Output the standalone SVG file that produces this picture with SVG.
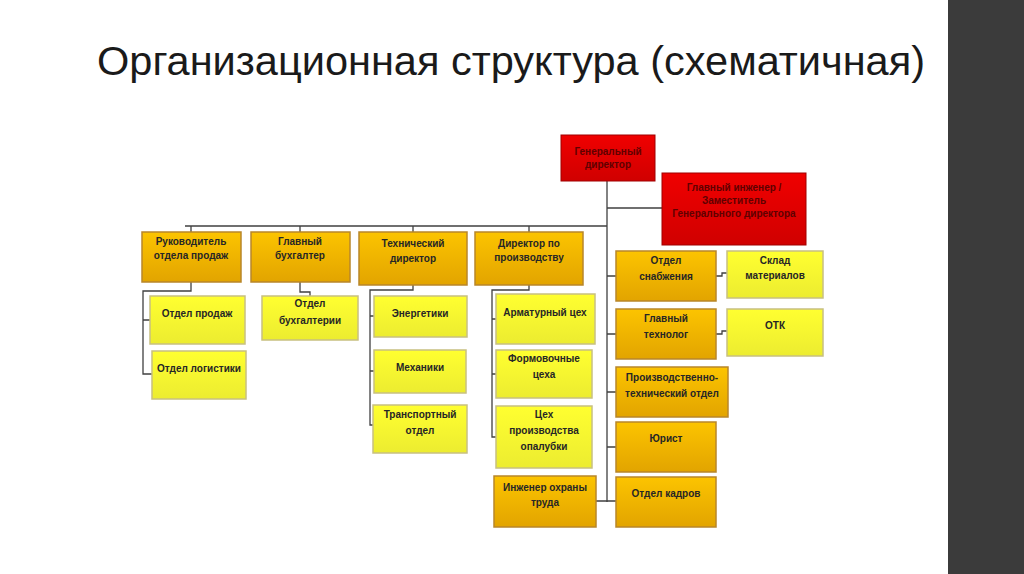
<svg xmlns="http://www.w3.org/2000/svg" width="1024" height="574" viewBox="0 0 1024 574">
<defs>
<linearGradient id="gO" x1="0" y1="0" x2="0" y2="1"><stop offset="0" stop-color="#fcc400"/><stop offset="1" stop-color="#e2a400"/></linearGradient>
<linearGradient id="gY" x1="0" y1="0" x2="0" y2="1"><stop offset="0" stop-color="#ffff30"/><stop offset="1" stop-color="#ecec30"/></linearGradient>
<linearGradient id="gR" x1="0" y1="0" x2="0" y2="1"><stop offset="0" stop-color="#f00000"/><stop offset="1" stop-color="#d00000"/></linearGradient>
<style>
.o{fill:url(#gO);stroke:#b8862a;stroke-width:1.5}
.y{fill:url(#gY);stroke:#c8c080;stroke-width:1.5}
.r{fill:url(#gR);stroke:#a00000;stroke-width:1}
text{font-family:"Liberation Sans",Arial,sans-serif;font-size:10px;font-weight:bold;text-anchor:middle;fill:#262626}
.rt{fill:#600000}
.c{fill:none;stroke:#404040;stroke-width:1.3}
</style>
</defs>
<rect width="1024" height="574" fill="#fff"/>
<rect x="948" y="0" width="76" height="574" fill="#3b3b3b"/>
<text x="97" y="75" style="font-family:'Liberation Sans',sans-serif;font-size:40px;font-weight:normal;text-anchor:start;fill:#1a1a1a" textLength="828" lengthAdjust="spacingAndGlyphs">Организационная структура (схематичная)</text>
<g id="connectors" class="c">
<path d="M607 181V502M185 226H607M607 208H662M191 226V232M300 226V232M413 226V232M529 226V232"/>
<path d="M191 282V291H143V374H152M143 320H150"/>
<path d="M300 282V292H310V296"/>
<path d="M413 285V290H370V425H373M370 316H374M370 371H374"/>
<path d="M529 285V290H492V437H496M492 319H496M492 374H496"/>
<path d="M596 501H616M607 276H616M607 334H616M607 392H616M607 447H616"/>
<path d="M716 276H722V273H727M716 334H722V331H727"/>
</g>
<g id="gd"><rect class="r" x="561" y="135" width="94" height="46"/><text class="rt" x="608" y="155">Генеральный</text><text class="rt" x="608" y="168">директор</text></g>
<g id="gi"><rect class="r" x="662" y="173" width="144" height="72"/><text class="rt" x="734" y="191">Главный инженер /</text><text class="rt" x="734" y="204">Заместитель</text><text class="rt" x="734" y="217">Генерального директора</text></g>
<g id="n1"><rect class="o" x="142" y="232" width="99" height="50"/><text x="191" y="245">Руководитель</text><text x="191" y="259">отдела продаж</text></g>
<g id="n2"><rect class="o" x="251" y="232" width="99" height="50"/><text x="300" y="245">Главный</text><text x="300" y="259">бухгалтер</text></g>
<g id="n3"><rect class="o" x="359" y="232" width="108" height="53"/><text x="413" y="247">Технический</text><text x="413" y="262">директор</text></g>
<g id="n4"><rect class="o" x="475" y="232" width="108" height="53"/><text x="529" y="247">Директор по</text><text x="529" y="261">производству</text></g>
<g id="n5"><rect class="y" x="150" y="296" width="95" height="48"/><text x="197" y="317">Отдел продаж</text></g>
<g id="n6"><rect class="y" x="152" y="351" width="94" height="48"/><text x="199" y="372">Отдел логистики</text></g>
<g id="n7"><rect class="y" x="262" y="296" width="96" height="44"/><text x="310" y="307">Отдел</text><text x="310" y="324">бухгалтерии</text></g>
<g id="n8"><rect class="y" x="374" y="296" width="93" height="41"/><text x="420" y="317">Энергетики</text></g>
<g id="n9"><rect class="y" x="374" y="350" width="92" height="43"/><text x="420" y="371">Механики</text></g>
<g id="n10"><rect class="y" x="373" y="405" width="94" height="48"/><text x="420" y="418">Транспортный</text><text x="420" y="434">отдел</text></g>
<g id="n11"><rect class="y" x="496" y="294" width="99" height="50"/><text x="545" y="316">Арматурный цех</text></g>
<g id="n12"><rect class="y" x="496" y="350" width="96" height="48"/><text x="544" y="362">Формовочные</text><text x="544" y="378">цеха</text></g>
<g id="n13"><rect class="y" x="496" y="406" width="96" height="62"/><text x="544" y="418">Цех</text><text x="544" y="434">производства</text><text x="544" y="450">опалубки</text></g>
<g id="n14"><rect class="o" x="494" y="476" width="102" height="51"/><text x="545" y="491">Инженер охраны</text><text x="545" y="506">труда</text></g>
<g id="n15"><rect class="o" x="616" y="251" width="100" height="50"/><text x="666" y="264">Отдел</text><text x="666" y="280">снабжения</text></g>
<g id="n16"><rect class="o" x="616" y="309" width="100" height="50"/><text x="666" y="322">Главный</text><text x="666" y="338">технолог</text></g>
<g id="n17"><rect class="o" x="616" y="367" width="112" height="50"/><text x="672" y="381">Производственно-</text><text x="672" y="397">технический отдел</text></g>
<g id="n18"><rect class="o" x="616" y="422" width="100" height="50"/><text x="666" y="442">Юрист</text></g>
<g id="n19"><rect class="o" x="616" y="477" width="100" height="50"/><text x="666" y="497">Отдел кадров</text></g>
<g id="n20"><rect class="y" x="727" y="251" width="96" height="47"/><text x="775" y="264">Склад</text><text x="775" y="279">материалов</text></g>
<g id="n21"><rect class="y" x="727" y="309" width="96" height="47"/><text x="775" y="329">ОТК</text></g>
</svg>
